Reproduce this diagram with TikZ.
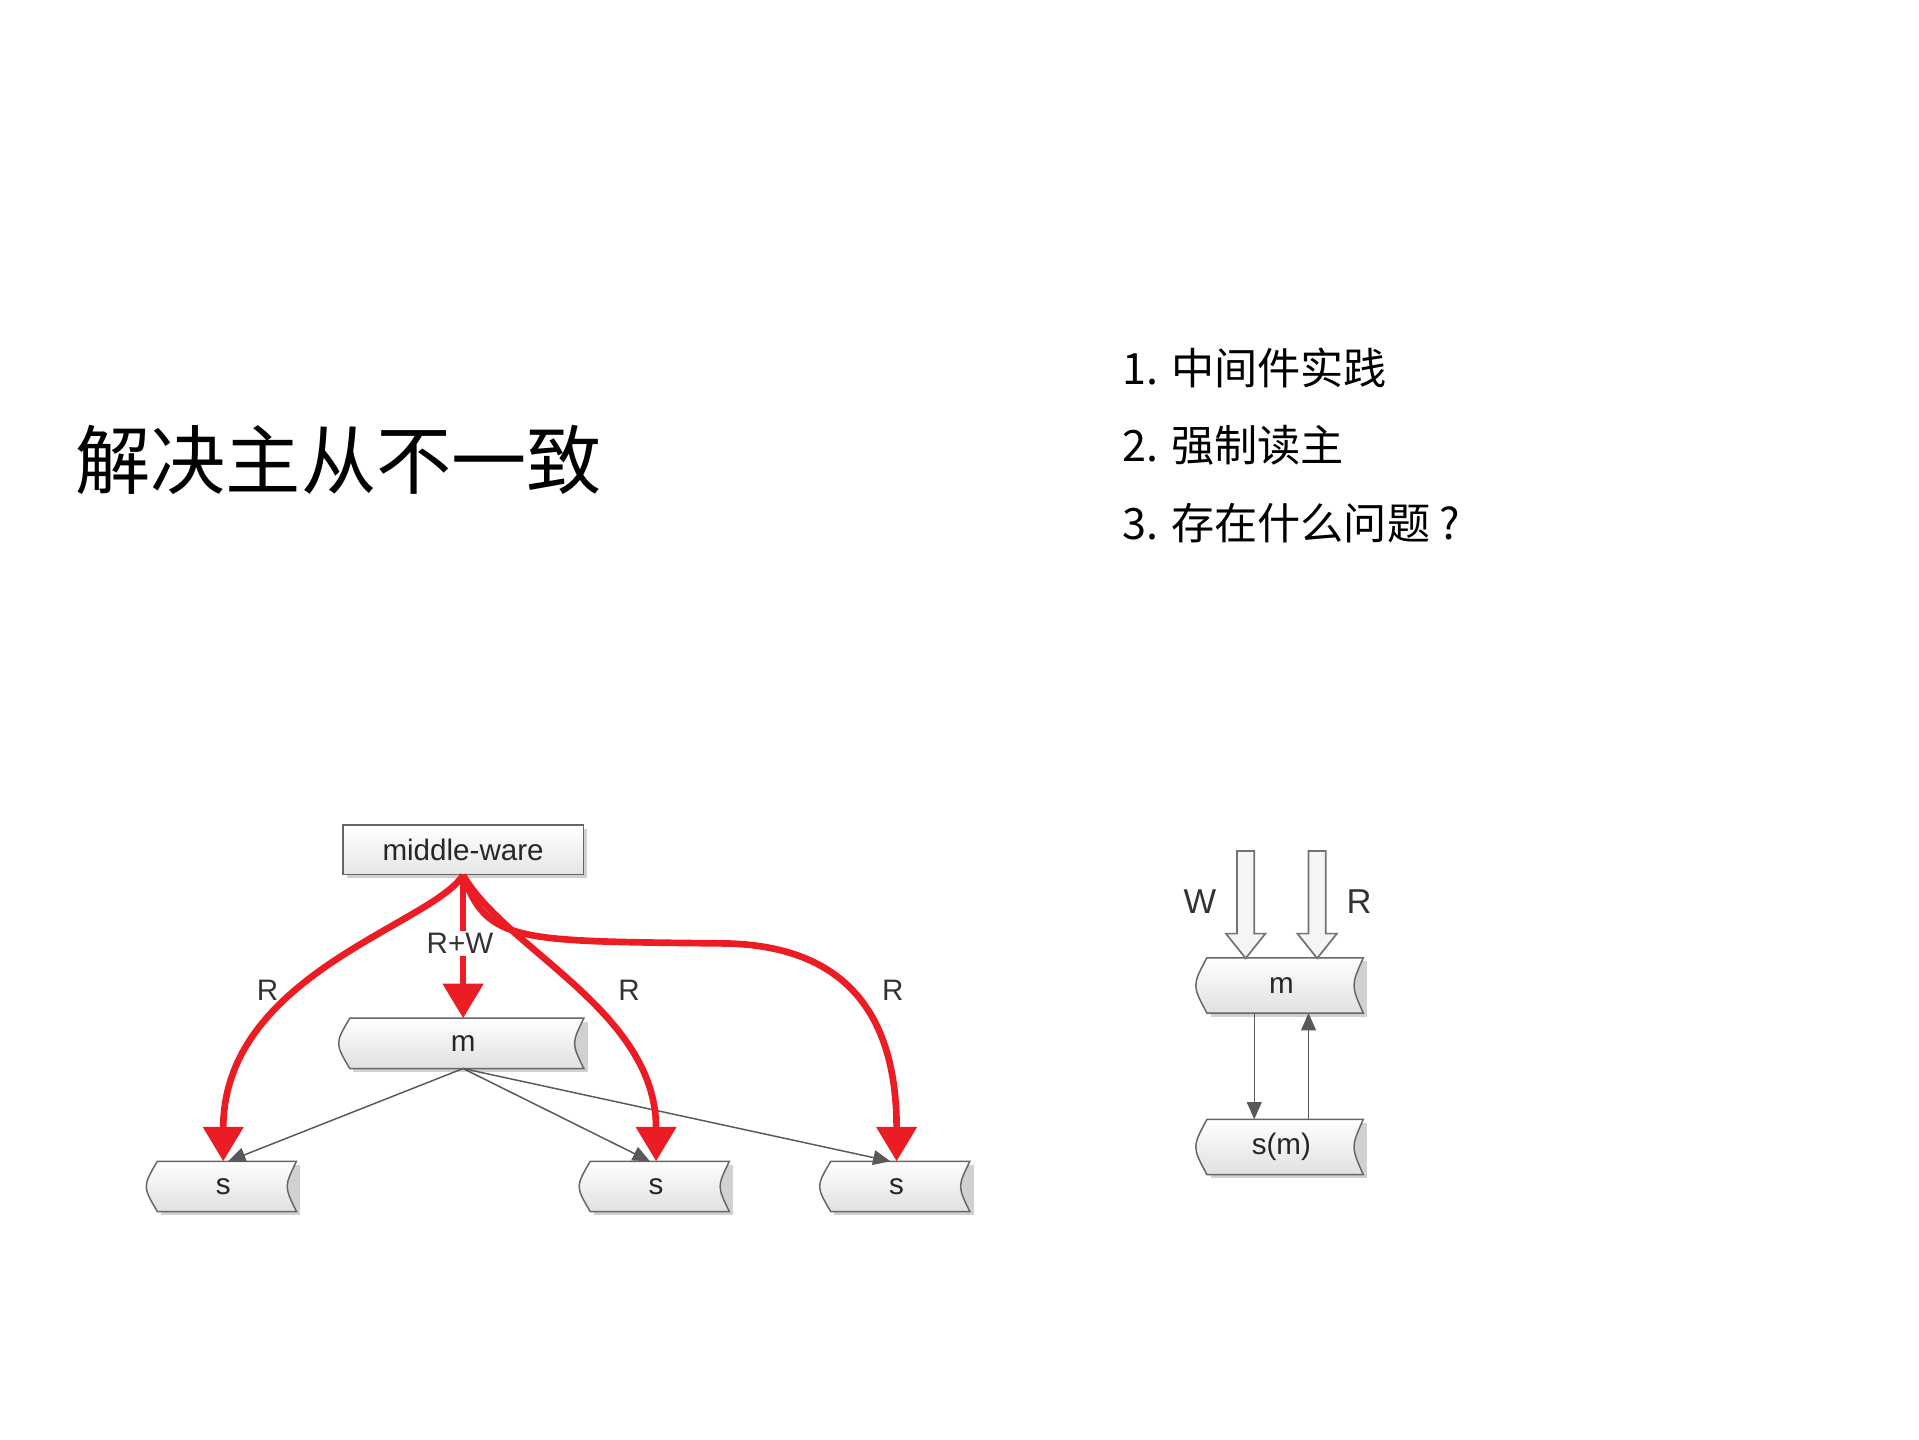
\documentclass[tikz,border=0pt]{standalone}
\usepackage{fontspec}
\setmainfont{Liberation Sans}
\newfontfamily\cjk{Noto Sans CJK SC}
\usetikzlibrary{calc,arrows.meta}
\tikzset{
  lbl/.style={font=\fontsize{12}{14}\selectfont, text=black!80},
  stbox/.style={inner sep=0pt, font=\fontsize{12}{14}\selectfont, text=black!85},
  red/.style={draw={rgb,255:red,235;green,28;blue,36}, line width=2.7pt, -{Triangle[length=14pt,width=16pt]}},
  thin/.style={draw=black!65, line width=0.6pt, -{Triangle[length=7pt,width=6pt]}},
  hollow/.style={draw=black!55, fill=black!4, line width=0.7pt}
}
\newcommand\storebody[1]{%
  \fill[black!18] ($(#1.north west)+(9,3)$) -- ($(#1.north east)+(3,3)$) -- ($(#1.south east)+(3,3)$) -- ($(#1.south west)+(9,3)$) -- cycle;
  \draw[draw=black!60, top color=white, bottom color=black!12, line width=0.6pt]
    ($(#1.north west)+(6,0)$) -- (#1.north east) .. controls ($(#1.east)+(-10,0)$) .. (#1.south east)
    -- ($(#1.south west)+(6,0)$) .. controls ($(#1.west)+(-6,0)$) .. cycle;
  \node[stbox] at (#1) {\csname txt#1\endcsname};}
\begin{document}
\begin{tikzpicture}[x=0.5pt,y=-0.5pt]
\useasboundingbox (0,0) rectangle (1556,1167);
\node[anchor=west, font=\cjk\fontsize{30.5}{34}\selectfont] (title) at (54,373) {解决主从不一致};
\node[anchor=west, font=\cjk\fontsize{17.5}{20}\selectfont] (l1) at (903,298) {1. 中间件实践};
\node[anchor=west, font=\cjk\fontsize{17.5}{20}\selectfont] (l2) at (903,361) {2. 强制读主};
\node[anchor=west, font=\cjk\fontsize{17.5}{20}\selectfont] (l3) at (903,424) {3. 存在什么问题 ?};

% middle-ware
\fill[black!18] (281,672) rectangle (476,712);
\node[draw=black!60, top color=white, bottom color=black!10, line width=0.6pt, minimum width=97.5pt, minimum height=20pt, inner sep=0pt, font=\fontsize{12}{14}\selectfont, text=black!85] (mw) at (375.5,689) {middle-ware};

% storage nodes
\def\txtm{m}\def\txtsa{s}\def\txtsb{s}\def\txtsc{s}\def\txtrm{m}\def\txtrs{s(m)}
\node[minimum width=97.5pt, minimum height=20pt, inner sep=0pt] (m) at (375.5,846) {};
\node[minimum width=59pt, minimum height=20pt, inner sep=0pt] (sa) at (181,962) {};
\node[minimum width=59pt, minimum height=20pt, inner sep=0pt] (sb) at (532,962) {};
\node[minimum width=59pt, minimum height=20pt, inner sep=0pt] (sc) at (727,962) {};
\node[minimum width=66pt, minimum height=22pt, inner sep=0pt] (rm) at (1039,799) {};
\node[minimum width=66pt, minimum height=22pt, inner sep=0pt] (rs) at (1039,930) {};
\storebody{m}\storebody{sa}\storebody{sb}\storebody{sc}\storebody{rm}\storebody{rs}

% gray arrows from m
\draw[thin] (m.south) -- ($(sa.north)+(4,0)$);
\draw[thin] (m.south) -- ($(sb.north)+(-5,0)$);
\draw[thin] (m.south) -- ($(sc.north)+(-5,0)$);

% red arrows
\draw[red] (mw.south) .. controls (350,750) and (181,790) .. (sa.north);
\draw[red] (mw.south) -- (m.north);
\draw[red] (mw.south) .. controls (410,770) and (532,820) .. (sb.north);
\draw[red] (mw.south) .. controls (395,765) and (420,763) .. (590,765) .. controls (700,768) and (727,840) .. (sc.north);
\node[lbl, fill=white, inner sep=1pt] (rw) at (373,765) {R+W};
\node[lbl] (r1) at (217,803) {R};
\node[lbl] (r2) at (510,803) {R};
\node[lbl] (r3) at (724,803) {R};

% right diagram
\coordinate (wt) at (1010,777);
\coordinate (rt) at (1068,777);
\foreach \c in {wt,rt}{
  \draw[hollow] ($(\c)+(-7,-87)$) -- ($(\c)+(7,-87)$) -- ($(\c)+(7,-20)$) -- ($(\c)+(16,-20)$) -- (\c) -- ($(\c)+(-16,-20)$) -- ($(\c)+(-7,-20)$) -- cycle;}
\node[lbl, font=\fontsize{14}{16}\selectfont] (wl) at (973,731) {W};
\node[lbl, font=\fontsize{14}{16}\selectfont] (rl) at (1102,731) {R};
\draw[thin] ($(rm.south)+(-22,0)$) -- ($(rs.north)+(-22,0)$);
\draw[thin] ($(rs.north)+(22,0)$) -- ($(rm.south)+(22,0)$);
\end{tikzpicture}
\end{document}
